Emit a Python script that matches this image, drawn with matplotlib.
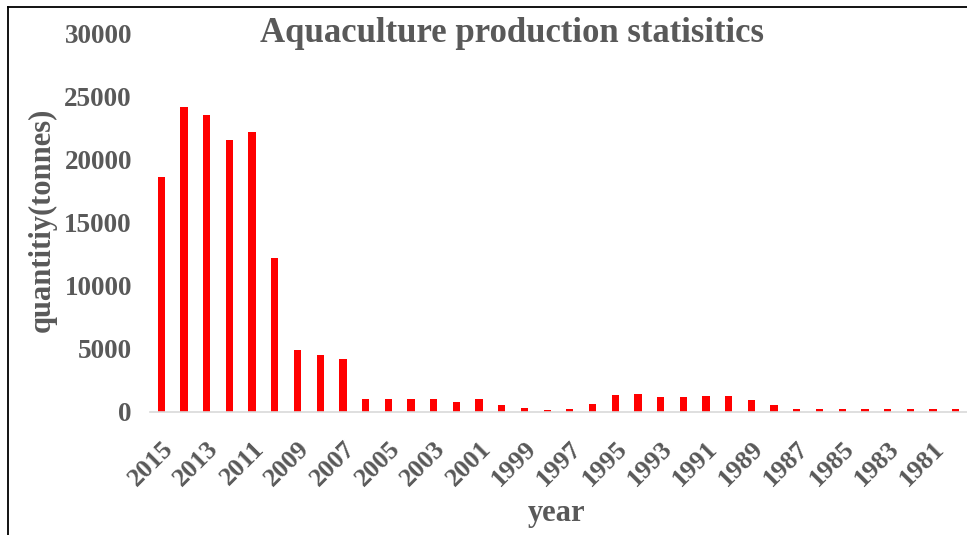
import numpy as np
import matplotlib.pyplot as plt
from matplotlib.lines import Line2D

# data (tonnes per year, newest first)
years = list(range(2015, 1979, -1))
quantity = [18600, 24100, 23500, 21500, 22150, 12150, 4870, 4470, 4200,
            1000, 1000, 1000, 1000, 790, 1000, 550, 290, 130, 210, 630,
            1290, 1370, 1130, 1130, 1210, 1210, 950, 550,
            210, 210, 210, 210, 210, 210, 210, 210]
yticks = [0, 5000, 10000, 15000, 20000, 25000, 30000]

grey = '#595959'
plt.rcParams['font.family'] = ['Liberation Serif', 'DejaVu Serif']
plt.rcParams['font.weight'] = 'bold'

fig = plt.figure(figsize=(9.67, 5.35), dpi=100)
ax = fig.add_axes([150/967, 1-411.7/535, 1-150/967, (411.7-33)/535])

x = np.arange(len(years))
ax.bar(x, quantity, width=0.32, color='#ff0000')

ax.set_xlim(-0.5, len(years) - 0.5)
ax.set_ylim(0, 30000)
ax.set_yticks(yticks)
ax.set_yticklabels([str(v) for v in yticks], fontsize=19.5, color=grey)
ax.set_xticks(x[::2])
ax.set_xticklabels([str(y) for y in years[::2]], rotation=45, ha='right',
                   rotation_mode='anchor', fontsize=19, color=grey)
ax.tick_params(axis='y', length=0, pad=13)
ax.tick_params(axis='x', length=0, pad=18)

for s in ['top', 'right', 'left']:
    ax.spines[s].set_visible(False)
ax.spines['bottom'].set_color('#d9d9d9')
ax.spines['bottom'].set_linewidth(1.2)

fig.text(512/967, 1-33/535, 'Aquaculture production statisitics', fontsize=25,
         color=grey, ha='center', va='center', fontweight='bold')
fig.text(557/967, 1-513/535, 'year', fontsize=22, color=grey,
         ha='center', va='center', fontweight='bold')
fig.text(42/967, 1-220/535, 'quantitiy(tonnes)', fontsize=22, color=grey,
         ha='center', va='center', rotation=90, fontweight='bold')

# outer frame (only left and top visible in the crop)
fig.add_artist(Line2D([8/967, 8/967], [0, 1-7/535], color='black', lw=1.3,
                      transform=fig.transFigure))
fig.add_artist(Line2D([8/967, 1], [1-7/535, 1-7/535], color='black', lw=1.3,
                      transform=fig.transFigure))

fig.savefig('out.png', dpi=100)
